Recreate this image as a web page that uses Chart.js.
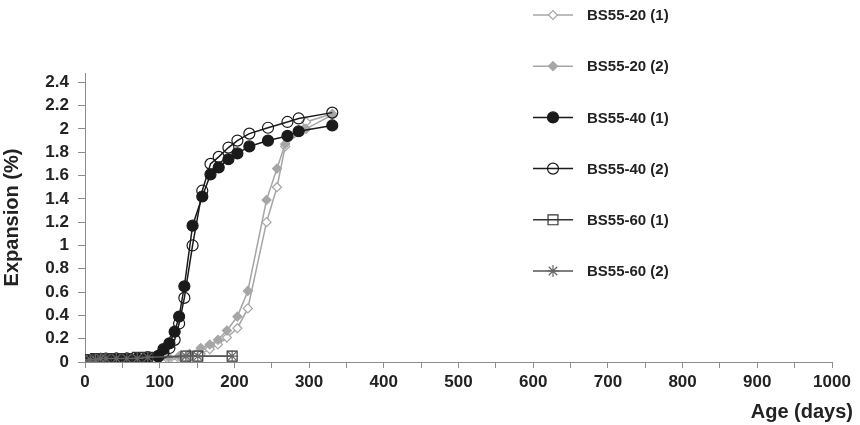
<!DOCTYPE html>
<html>
<head>
<meta charset="utf-8">
<script src="https://cdn.jsdelivr.net/npm/chart.js@4.4.1/dist/chart.umd.min.js"></script>
<style>
    body { margin: 0; background: #fff; }
    #wrap { width: 860px; height: 425px; }
</style>
</head>
<body>
<div id="wrap"><canvas id="expansionChart" width="860" height="425"></canvas></div>
<script>
// --- Data (age in days, expansion in %) ---
const seriesNames = ["BS55-20 (1)", "BS55-20 (2)", "BS55-40 (1)", "BS55-40 (2)", "BS55-60 (1)", "BS55-60 (2)"];

const days20 = [0, 7, 14, 21, 28, 42, 56, 70, 84, 98, 112, 126, 140, 155, 167, 178, 190, 204, 218, 243, 257, 268, 296, 331];
const bs20a = [0, 0.01, 0.02, 0.02, 0.02, 0.02, 0.02, 0.02, 0.03, 0.02, 0.02, 0.03, 0.04, 0.07, 0.11, 0.15, 0.21, 0.29, 0.46, 1.20, 1.50, 1.85, 2.06, 2.13];
const bs20b = [0, 0.01, 0.02, 0.02, 0.02, 0.03, 0.03, 0.03, 0.03, 0.03, 0.04, 0.05, 0.07, 0.12, 0.15, 0.19, 0.27, 0.39, 0.61, 1.39, 1.66, 1.87, 2.00, 2.12];

const days40 = [0, 7, 14, 21, 28, 42, 56, 70, 84, 98, 105, 113, 120, 126, 133, 144, 157, 168, 179, 192, 204, 220, 245, 271, 286, 331];
const bs40a = [0, 0.01, 0.02, 0.02, 0.03, 0.03, 0.03, 0.03, 0.04, 0.05, 0.11, 0.16, 0.26, 0.39, 0.65, 1.17, 1.42, 1.61, 1.67, 1.74, 1.79, 1.85, 1.90, 1.94, 1.98, 2.03];
const bs40b = [0, 0.01, 0.02, 0.02, 0.02, 0.03, 0.03, 0.03, 0.04, 0.05, 0.08, 0.12, 0.19, 0.33, 0.55, 1.00, 1.47, 1.70, 1.76, 1.84, 1.90, 1.96, 2.01, 2.06, 2.09, 2.14];

const days60 = [0, 7, 14, 21, 28, 42, 56, 70, 84, 135, 151, 197];
const bs60a = [0, 0.02, 0.03, 0.03, 0.03, 0.03, 0.03, 0.04, 0.04, 0.05, 0.05, 0.05];
const bs60b = [0, 0.02, 0.02, 0.03, 0.03, 0.03, 0.03, 0.03, 0.04, 0.05, 0.05, 0.05];

const xTicks = { min: 0, max: 1000, step: 50, labelEvery: 100 };
const yTicks = { min: 0, max: 2.48, step: 0.2 };

// --- Styling ---
const GRAY = "#a6a6a6";
const BLACK = "#1a1a1a";
const AXIS = "#8c8c8c";
const TEXT = "#222";
const FONT = "'Liberation Sans', Arial, sans-serif";

function pts(xs, ys) {
    return xs.map((x, i) => ({ x, y: ys[i] }));
}

const seriesData = [
    pts(days20, bs20a), pts(days20, bs20b),
    pts(days40, bs40a), pts(days40, bs40b),
    pts(days60, bs60a), pts(days60, bs60b)
];

const seriesStyle = [
    { line: GRAY, style: "rectRot", radius: 4.5, fill: "#fff", stroke: GRAY },
    { line: GRAY, style: "rectRot", radius: 4.5, fill: GRAY, stroke: GRAY },
    { line: BLACK, style: "circle", radius: 5.5, fill: BLACK, stroke: BLACK },
    { line: BLACK, style: "circle", radius: 5.5, fill: "rgba(0,0,0,0)", stroke: BLACK },
    { line: "#333", style: "rect", radius: 7, fill: "rgba(0,0,0,0)", stroke: "#333" },
    { line: "#555", style: "star", radius: 6, fill: "#666", stroke: "#666" }
];

const datasets = seriesNames.map((name, i) => ({
    label: name,
    data: seriesData[i],
    showLine: true,
    borderColor: seriesStyle[i].line,
    borderWidth: 1.5,
    pointStyle: seriesStyle[i].style,
    pointRadius: seriesStyle[i].radius,
    pointBackgroundColor: seriesStyle[i].fill,
    pointBorderColor: seriesStyle[i].stroke,
    pointBorderWidth: 1.2,
    tension: 0,
    order: -i // later series drawn on top, like the original
}));

// --- Custom legend stacked at the top right ---
const legendPlugin = {
    id: "stackLegend",
    afterDraw(chart) {
        const ctx = chart.ctx;
        const x0 = 533, x1 = 573, xm = 553, xt = 587;
        ctx.save();
        chart.data.datasets.forEach((ds, i) => {
            const y = 15 + i * 51.2;
            ctx.strokeStyle = ds.borderColor;
            ctx.lineWidth = 1.5;
            ctx.beginPath();
            ctx.moveTo(x0, y);
            ctx.lineTo(x1, y);
            ctx.stroke();
            ctx.fillStyle = ds.pointBackgroundColor;
            ctx.strokeStyle = ds.pointBorderColor;
            ctx.lineWidth = ds.pointBorderWidth;
            Chart.helpers.drawPoint(ctx, {
                pointStyle: ds.pointStyle,
                radius: ds.pointRadius,
                rotation: 0,
                borderWidth: ds.pointBorderWidth
            }, xm, y);
            ctx.fillStyle = TEXT;
            ctx.font = `bold 15px ${FONT}`;
            ctx.textBaseline = "middle";
            ctx.textAlign = "left";
            ctx.fillText(ds.label, xt, y + 1);
        });
        // x axis title, right-aligned past the axis end
        ctx.font = `bold 20px ${FONT}`;
        ctx.textAlign = "right";
        ctx.textBaseline = "middle";
        ctx.fillStyle = TEXT;
        ctx.fillText("Age (days)", chart.chartArea.right + 21, 412);
        ctx.restore();
    }
};

const ctx = document.getElementById("expansionChart").getContext("2d");
new Chart(ctx, {
    type: "scatter",
    data: { datasets },
    plugins: [legendPlugin],
    options: {
        responsive: false,
        animation: false,
        layout: { padding: { left: 0, right: 28, top: 73, bottom: 0 } },
        plugins: { legend: { display: false }, tooltip: { enabled: false } },
        scales: {
            x: {
                type: "linear",
                min: xTicks.min,
                max: xTicks.max,
                afterFit: s => { s.height = 63; },
                border: { display: true, color: AXIS, width: 1 },
                grid: { drawOnChartArea: false, drawTicks: true, tickLength: 6, color: AXIS },
                ticks: {
                    stepSize: xTicks.step,
                    autoSkip: false,
                    maxRotation: 0,
                    padding: 4,
                    color: TEXT,
                    font: { family: FONT, size: 17, weight: "bold" },
                    callback: v => (v % xTicks.labelEvery === 0 ? String(v) : "")
                }
            },
            y: {
                type: "linear",
                min: yTicks.min,
                max: yTicks.max,
                afterFit: s => { s.width = 85; },
                border: { display: true, color: AXIS, width: 1 },
                grid: { drawOnChartArea: false, drawTicks: true, tickLength: 7, color: AXIS },
                title: {
                    display: true,
                    text: "Expansion (%)",
                    color: TEXT,
                    font: { family: FONT, size: 20, weight: "bold" },
                    padding: { top: 0, bottom: 4 }
                },
                ticks: {
                    stepSize: yTicks.step,
                    includeBounds: false,
                    padding: 9,
                    color: TEXT,
                    font: { family: FONT, size: 17, weight: "bold" },
                    callback: v => String(+v.toFixed(1))
                }
            }
        }
    }
});
</script>
</body>
</html>
